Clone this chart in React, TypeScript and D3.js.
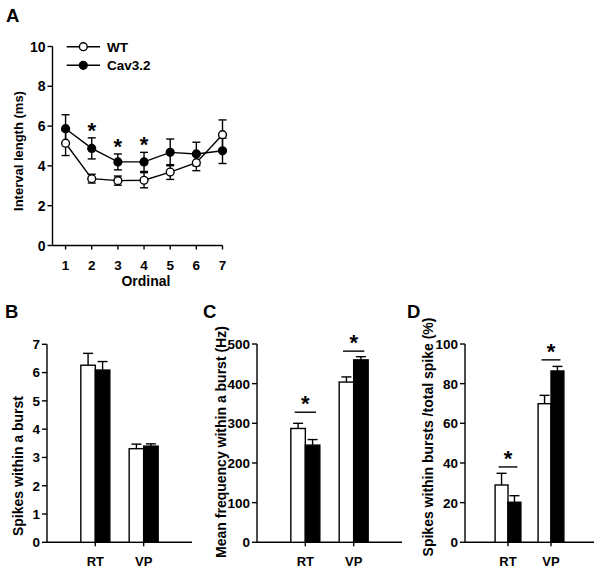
import React from 'react';
import * as d3 from 'd3';

// ---------- Data ----------
const ordinals = [1, 2, 3, 4, 5, 6, 7];
const wtInterval = [5.14, 3.36, 3.26, 3.28, 3.69, 4.16, 5.57];
const wtIntervalErr = [0.62, 0.22, 0.23, 0.38, 0.37, 0.4, 0.74];
const cavInterval = [5.87, 4.88, 4.2, 4.2, 4.68, 4.6, 4.76];
const cavIntervalErr = [0.7, 0.53, 0.4, 0.48, 0.67, 0.59, 0.64];
const sigOrdinals = [2, 3, 4];
const intervalTicks = [0, 2, 4, 6, 8, 10];

const barCategories = ['RT', 'VP'];

const wtSpikes = [6.26, 3.31];
const wtSpikesErr = [0.42, 0.16];
const cavSpikes = [6.09, 3.4];
const cavSpikesErr = [0.3, 0.08];
const spikesTicks = [0, 1, 2, 3, 4, 5, 6, 7];

const wtFreq = [287, 404];
const wtFreqErr = [13, 13];
const cavFreq = [245, 460];
const cavFreqErr = [14, 8];
const freqSig = [328, 482];
const freqTicks = [0, 100, 200, 300, 400, 500];

const wtPct = [28.9, 69.9];
const wtPctErr = [5.9, 4.2];
const cavPct = [20.2, 86.4];
const cavPctErr = [3.3, 2.3];
const pctSig = [38, 92];
const pctTicks = [0, 20, 40, 60, 80, 100];

const FONT = '"Liberation Sans", Arial, Helvetica, sans-serif';
const SW = 1.4;
const TICK_FS = 13.5;
const STAR_FS = 22;

// ---------- Components ----------
function YAxis({ y, x0, ticks, fontSize = TICK_FS }: any) {
  const [r0, r1] = y.range();
  return (
    <g>
      <line x1={x0} x2={x0} y1={r0} y2={r1} stroke="#000" strokeWidth={SW} />
      {ticks.map((t: number) => (
        <g key={t}>
          <line x1={x0 - 5} x2={x0} y1={y(t)} y2={y(t)} stroke="#000" strokeWidth={SW} />
          <text x={x0 - 7} y={y(t)} dy="0.36em" textAnchor="end" fontSize={fontSize} fontWeight="bold" fontFamily={FONT}>
            {t}
          </text>
        </g>
      ))}
    </g>
  );
}

function BarPanel({ letter, letterX, letterY, xr, yr, domainMax, ticks, wt, wtErr, cav, cavErr, sig, title, titleX, titleY }: any) {
  const x = d3.scaleLinear().domain([0, 3]).range(xr);
  const y = d3.scaleLinear().domain([0, domainMax]).range(yr);
  const unit = x(1) - x(0);
  const bw = unit * 0.3;
  const base = y(0);
  const cap = 5;
  return (
    <g>
      <text x={letterX} y={letterY} fontSize={18.5} fontWeight="bold" fontFamily={FONT}>{letter}</text>
      <YAxis y={y} x0={xr[0]} ticks={ticks} />
      <line x1={xr[0]} x2={xr[1]} y1={base} y2={base} stroke="#000" strokeWidth={SW} />
      {barCategories.map((c: string, i: number) => {
        const cx = x(i + 1);
        const wx = cx - bw;
        const kx = cx;
        return (
          <g key={c}>
            <line x1={wx + bw / 2} x2={wx + bw / 2} y1={y(wt[i])} y2={y(wt[i] + wtErr[i])} stroke="#000" strokeWidth={SW} />
            <line x1={wx + bw / 2 - cap} x2={wx + bw / 2 + cap} y1={y(wt[i] + wtErr[i])} y2={y(wt[i] + wtErr[i])} stroke="#000" strokeWidth={SW} />
            <line x1={kx + bw / 2} x2={kx + bw / 2} y1={y(cav[i])} y2={y(cav[i] + cavErr[i])} stroke="#000" strokeWidth={SW} />
            <line x1={kx + bw / 2 - cap} x2={kx + bw / 2 + cap} y1={y(cav[i] + cavErr[i])} y2={y(cav[i] + cavErr[i])} stroke="#000" strokeWidth={SW} />
            <rect x={wx} y={y(wt[i])} width={bw} height={base - y(wt[i])} fill="#fff" stroke="#000" strokeWidth={SW} />
            <rect x={kx} y={y(cav[i])} width={bw} height={base - y(cav[i])} fill="#000" stroke="#000" strokeWidth={SW} />
            <line x1={cx} x2={cx} y1={base} y2={base + 4} stroke="#000" strokeWidth={SW} />
            <text x={cx} y={base + 19.5} dy="0.36em" textAnchor="middle" fontSize={13} fontWeight="bold" fontFamily={FONT}>{c}</text>
            {sig && (
              <g>
                <line x1={cx - unit * 0.22} x2={cx + unit * 0.22} y1={y(sig[i])} y2={y(sig[i])} stroke="#000" strokeWidth={SW} />
                <text x={cx} y={y(sig[i]) - 13 + 12} textAnchor="middle" fontSize={STAR_FS} fontWeight="bold" fontFamily={FONT}>*</text>
              </g>
            )}
          </g>
        );
      })}
      <text transform={`translate(${titleX},${titleY}) rotate(-90)`} textAnchor="middle" dy="0.36em" fontSize={14} fontWeight="bold" fontFamily={FONT}>{title}</text>
    </g>
  );
}

function LinePanel() {
  const x = d3.scaleLinear().domain([0.5, 7]).range([52.5, 222.5]);
  const y = d3.scaleLinear().domain([0, 10]).range([245.5, 46.5]);
  const line = d3.line<number>().x((_, i) => x(ordinals[i])).y((d) => y(d));
  const cap = 4;
  const r = 3.9;
  const series = [
    { v: cavInterval, e: cavIntervalErr, fill: '#000' },
    { v: wtInterval, e: wtIntervalErr, fill: '#fff' },
  ];
  return (
    <g>
      <text x={6} y={21.7} fontSize={18.5} fontWeight="bold" fontFamily={FONT}>A</text>
      <YAxis y={y} x0={52.5} ticks={intervalTicks} fontSize={14} />
      <line x1={52.5} x2={222.5} y1={y(0)} y2={y(0)} stroke="#000" strokeWidth={SW} />
      {ordinals.map((o) => (
        <g key={o}>
          <line x1={x(o)} x2={x(o)} y1={y(0)} y2={y(0) + 4} stroke="#000" strokeWidth={SW} />
          <text x={x(o)} y={y(0) + 19.5} dy="0.36em" textAnchor="middle" fontSize={13.5} fontWeight="bold" fontFamily={FONT}>{o}</text>
        </g>
      ))}
      <text x={146} y={281} dy="0.36em" textAnchor="middle" fontSize={14} fontWeight="bold" fontFamily={FONT}>Ordinal</text>
      <text transform={`translate(18,151) rotate(-90)`} textAnchor="middle" dy="0.36em" fontSize={13} fontWeight="bold" fontFamily={FONT}>Interval length (ms)</text>
      {series.map((s, si) => (
        <g key={si}>
          {s.v.map((v, i) => (
            <g key={i}>
              <line x1={x(ordinals[i])} x2={x(ordinals[i])} y1={y(v - s.e[i])} y2={y(v + s.e[i])} stroke="#000" strokeWidth={SW} />
              <line x1={x(ordinals[i]) - cap} x2={x(ordinals[i]) + cap} y1={y(v + s.e[i])} y2={y(v + s.e[i])} stroke="#000" strokeWidth={SW} />
              <line x1={x(ordinals[i]) - cap} x2={x(ordinals[i]) + cap} y1={y(v - s.e[i])} y2={y(v - s.e[i])} stroke="#000" strokeWidth={SW} />
            </g>
          ))}
        </g>
      ))}
      {series.map((s, si) => (
        <path key={si} d={line(s.v) || ''} fill="none" stroke="#000" strokeWidth={SW} />
      ))}
      {series.map((s, si) => (
        <g key={si}>
          {s.v.map((v, i) => (
            <circle key={i} cx={x(ordinals[i])} cy={y(v)} r={r} fill={s.fill} stroke="#000" strokeWidth={SW} />
          ))}
        </g>
      ))}
      {sigOrdinals.map((o) => {
        const i = ordinals.indexOf(o);
        return (
          <text key={o} x={x(o)} y={y(cavInterval[i] + cavIntervalErr[i]) - 12 + 12} textAnchor="middle" fontSize={STAR_FS} fontWeight="bold" fontFamily={FONT}>*</text>
        );
      })}
      {/* legend */}
      <line x1={66.7} x2={100} y1={46.7} y2={46.7} stroke="#000" strokeWidth={SW} />
      <circle cx={83.3} cy={46.7} r={r} fill="#fff" stroke="#000" strokeWidth={SW} />
      <text x={107} y={46.7} dy="0.36em" fontSize={13.5} fontWeight="bold" fontFamily={FONT}>WT</text>
      <line x1={66.7} x2={100} y1={65.3} y2={65.3} stroke="#000" strokeWidth={SW} />
      <circle cx={83.3} cy={65.3} r={r} fill="#000" stroke="#000" strokeWidth={SW} />
      <text x={107} y={65.3} dy="0.36em" fontSize={13.5} fontWeight="bold" fontFamily={FONT}>Cav3.2</text>
    </g>
  );
}

export default function App() {
  return (
    <svg width={600} height={571} style={{ position: 'absolute', left: 0, top: 0, background: '#fff' }}>
      <rect width={600} height={571} fill="#fff" />
      <LinePanel />
      <BarPanel letter="B" letterX={5} letterY={318.3} xr={[47, 192]} yr={[542.3, 344.3]} domainMax={7} ticks={spikesTicks}
        wt={wtSpikes} wtErr={wtSpikesErr} cav={cavSpikes} cavErr={cavSpikesErr} sig={null}
        title="Spikes within a burst" titleX={18} titleY={466} />
      <BarPanel letter="C" letterX={203} letterY={318.3} xr={[257, 402]} yr={[542.3, 344]} domainMax={500} ticks={freqTicks}
        wt={wtFreq} wtErr={wtFreqErr} cav={cavFreq} cavErr={cavFreqErr} sig={freqSig}
        title="Mean frequency within a burst (Hz)" titleX={221} titleY={442} />
      <BarPanel letter="D" letterX={407} letterY={318.3} xr={[465, 594]} yr={[542.3, 344]} domainMax={100} ticks={pctTicks}
        wt={wtPct} wtErr={wtPctErr} cav={cavPct} cavErr={cavPctErr} sig={pctSig}
        title="Spikes within bursts /total spike (%)" titleX={428} titleY={437} />
    </svg>
  );
}
